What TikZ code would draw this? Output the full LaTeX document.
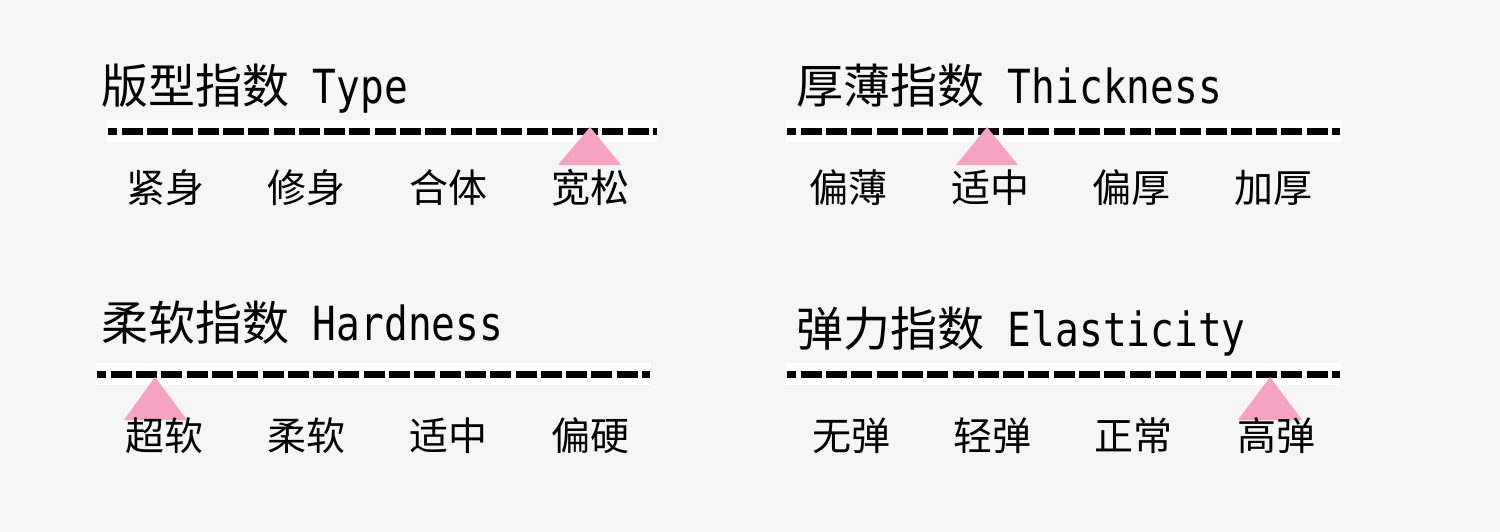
\documentclass[tikz,border=0pt]{standalone}
\usepackage{fontspec}
\newfontfamily\cjk{Noto Sans CJK SC}
\newfontfamily\mono[FakeStretch=0.84]{DejaVu Sans Mono}
\definecolor{bg}{HTML}{F6F6F6}
\definecolor{mkpink}{HTML}{F5A3C0}
\tikzset{
  ttl/.style={anchor=base west, inner sep=0pt, font=\fontsize{47}{50}\selectfont},
  lab/.style={anchor=base, inner sep=0pt, font=\cjk\fontsize{39}{42}\selectfont},
  band/.style={fill=white, draw=none},
  dline/.style={line width=7pt, dash pattern=on 21pt off 4.3pt, dash phase=11.6pt, draw=black},
  marker/.style={fill=mkpink, draw=none}
}
\begin{document}
\begin{tikzpicture}[x=1pt,y=-1pt]
\useasboundingbox (0,0) rectangle (1500,532);
\fill[bg] (0,0) rectangle (1500,532);

% ---------- Panel 1: Type ----------
\node[ttl] (t1) at (101,104) {\cjk 版型指数\mono{} Type};
\fill[band] (107,120) rectangle (658,142);
\coordinate (a1) at (108,131.5);
\coordinate (b1) at (657,131.5);
\draw[dline] (a1) -- (b1);
\fill[marker] (590,127) -- (621,165) -- (558,165) -- cycle;
\node[lab] (l11) at (165,203) {紧身};
\node[lab] (l12) at (306,203) {修身};
\node[lab] (l13) at (448,203) {合体};
\node[lab] (l14) at (590,203) {宽松};

% ---------- Panel 2: Thickness ----------
\node[ttl] (t2) at (796,104) {\cjk 厚薄指数\mono{} Thickness};
\fill[band] (786,120) rectangle (1341,142);
\coordinate (a2) at (787,131.5);
\coordinate (b2) at (1340,131.5);
\draw[dline] (a2) -- (b2);
\fill[marker] (987,127) -- (1018,165) -- (956,165) -- cycle;
\node[lab] (l21) at (848,203) {偏薄};
\node[lab] (l22) at (990,203) {适中};
\node[lab] (l23) at (1131,203) {偏厚};
\node[lab] (l24) at (1273,203) {加厚};

% ---------- Panel 3: Hardness ----------
\node[ttl] (t3) at (101,340) {\cjk 柔软指数\mono{} Hardness};
\fill[band] (96,363) rectangle (651,385);
\coordinate (a3) at (97,374.5);
\coordinate (b3) at (650,374.5);
\draw[dline] (a3) -- (b3);
\fill[marker] (155,377) -- (187,420) -- (124,420) -- cycle;
\node[lab] (l31) at (164,450) {超软};
\node[lab] (l32) at (306,450) {柔软};
\node[lab] (l33) at (448,450) {适中};
\node[lab] (l34) at (590,450) {偏硬};

% ---------- Panel 4: Elasticity ----------
\node[ttl] (t4) at (796,346) {\cjk 弹力指数\mono{} Elasticity};
\fill[band] (786,363) rectangle (1341,385);
\coordinate (a4) at (787,374.5);
\coordinate (b4) at (1340,374.5);
\draw[dline] (a4) -- (b4);
\fill[marker] (1270,377) -- (1302,420) -- (1238,420) -- cycle;
\node[lab] (l41) at (851,450) {无弹};
\node[lab] (l42) at (992,450) {轻弹};
\node[lab] (l43) at (1133,450) {正常};
\node[lab] (l44) at (1276,450) {高弹};
\end{tikzpicture}
\end{document}
